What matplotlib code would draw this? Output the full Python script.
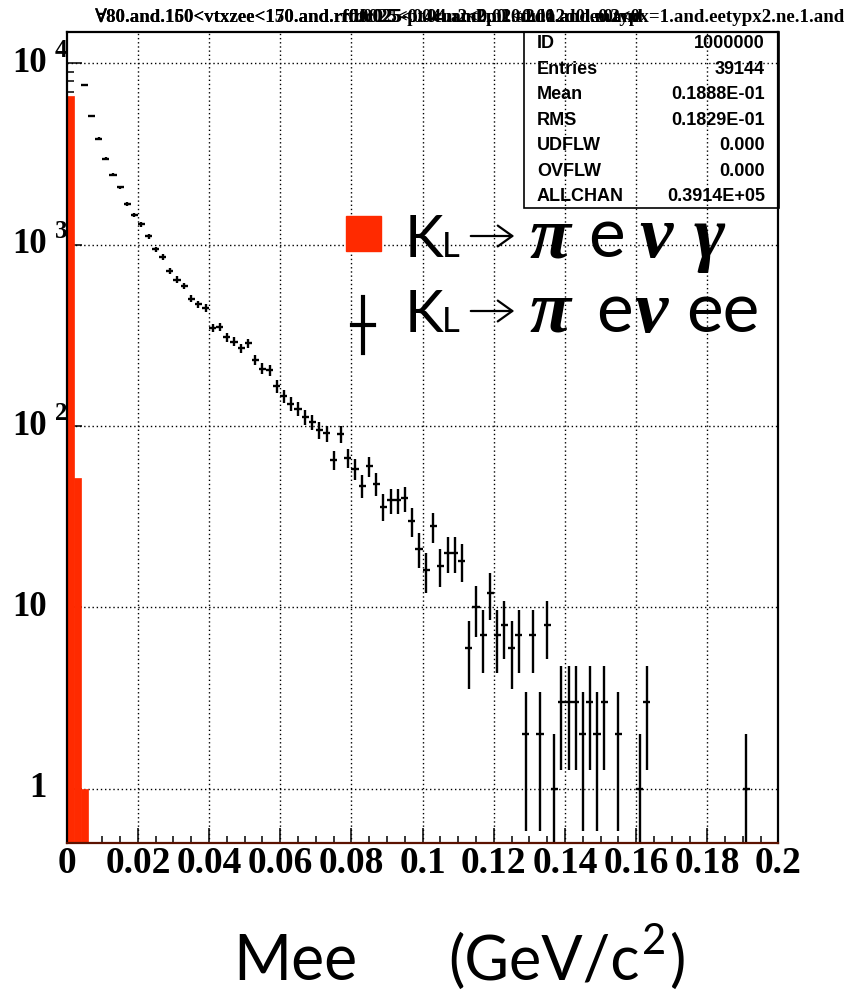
import numpy as np
import matplotlib
matplotlib.use("Agg")
import matplotlib.pyplot as plt
from matplotlib.transforms import Affine2D, blended_transform_factory, ScaledTranslation
from matplotlib.patches import Rectangle, FancyArrowPatch
from matplotlib.lines import Line2D

# ---------------- data ----------------
# K_L -> pi e nu gamma (red histogram), bin edges width 0.002
red_left = [0.000, 0.002, 0.004]
red_counts = [6600, 52, 1]
bin_width = 0.002

# K_L -> pi e nu e e (black points with errors), bin centres
ee_x = [0.005, 0.007, 0.009, 0.011, 0.013, 0.015, 0.017, 0.019, 0.021, 0.023,
        0.025, 0.027, 0.029, 0.031, 0.033, 0.035, 0.037, 0.039, 0.041, 0.043,
        0.045, 0.047, 0.049, 0.051, 0.053, 0.055, 0.057, 0.059, 0.061, 0.063,
        0.065, 0.067, 0.069, 0.071, 0.073, 0.075, 0.077, 0.079, 0.081, 0.083,
        0.085, 0.087, 0.089, 0.091, 0.093, 0.095, 0.097, 0.099, 0.101, 0.103,
        0.105, 0.107, 0.109, 0.111, 0.113, 0.115, 0.117, 0.119, 0.121, 0.123,
        0.125, 0.127, 0.129, 0.131, 0.133, 0.135, 0.137, 0.139, 0.141, 0.143,
        0.145, 0.147, 0.149, 0.151, 0.155, 0.161, 0.163, 0.191]
ee_counts = [7590, 5150, 3850, 2990, 2440, 2075, 1670, 1452, 1295, 1111,
             942, 858, 716, 643, 593, 504, 470, 448, 347, 353,
             309, 292, 268, 286, 232, 207, 204, 166, 146, 133,
             125, 112, 105, 95, 91, 65, 90, 67, 58, 47,
             60, 48, 36, 39, 39, 40, 30, 21, 16, 28,
             17, 20, 20, 18, 6, 10, 7, 12, 7, 8,
             6, 7, 2, 7, 2, 8, 1, 3, 3, 3,
             2, 3, 2, 3, 2, 1, 3, 1]

xtick_values = [0, 0.02, 0.04, 0.06, 0.08, 0.1, 0.12, 0.14, 0.16, 0.18, 0.2]
xtick_labels = ['0', '0.02', '0.04', '0.06', '0.08', '0.1', '0.12', '0.14', '0.16', '0.18', '0.2']
ytick_values = [1, 10, 100, 1000, 10000]
ytick_base = ['1', '10', '10', '10', '10']
ytick_exp = ['', '', '2', '3', '4']

stats_names = ['ID', 'Entries', 'Mean', 'RMS', 'UDFLW', 'OVFLW', 'ALLCHAN']
stats_values = ['1000000', '39144', '0.1888E-01', '0.1829E-01', '0.000', '0.000', '0.3914E+05']

title_head = "\u220080.and.160<vtxzee<150.and."
title_left = ["\u220080.and.160<vtxzee<150.and.rfd0025<0.04uam2p0.0du.a2d0.e0.and.eetypx2.ne",
              "\u220080.and.150<vtxzee<170.and.rf0.0025-pt4cm2<0.01.a2d0.and.m2<0.01.and.ee"]
title_right = "rfdc025<0.04.and.m2<0.01.and.e0typx=1.and.eetypx2.ne.1.and"

RED = '#ff2a00'
W, H = 850, 993

fig = plt.figure(figsize=(W / 100, H / 100), dpi=100)
fig.patch.set_facecolor('white')
pix = Affine2D().scale(1 / W, -1 / H).translate(0, 1) + fig.transFigure
r = fig.canvas.get_renderer()

ax_l, ax_r, ax_t, ax_b = 66.7, 778.5, 31.5, 843.3
ax = fig.add_axes([ax_l / W, 1 - ax_b / H, (ax_r - ax_l) / W, (ax_b - ax_t) / H])
ax.set_yscale('log')
ax.set_xlim(0, 0.2)
ax.set_ylim(0.5, 1.5e4)

# red histogram
ax.bar(red_left, red_counts, width=bin_width, align='edge', color=RED,
       edgecolor=RED, linewidth=0.5, zorder=2)

# black points with Poisson errors
y = np.array(ee_counts, dtype=float)
err = np.sqrt(y)
low = np.minimum(err, y - 1e-3)
ax.errorbar(ee_x, y, xerr=bin_width / 2, yerr=[low, err], fmt='none',
            ecolor='black', elinewidth=1.7, capsize=0, zorder=3)

# grid
for xv in xtick_values[1:-1]:
    ax.axvline(xv, color='black', lw=1.0, ls=(0, (1, 2)), zorder=1)
for yv in ytick_values:
    ax.axhline(yv, color='black', lw=1.0, ls=(0, (1, 2)), zorder=1)

# ticks
ax.set_xticks(xtick_values)
ax.set_xticklabels(xtick_labels, family='Liberation Serif', weight='bold', fontsize=27)
ax.set_xticks(np.arange(0, 0.2001, 0.005), minor=True)
ax.set_yticks(ytick_values)
ax.set_yticklabels([''] * len(ytick_values))
ax.tick_params(which='both', direction='in', top=False, right=False, width=1.1)
ax.tick_params(which='major', length=11)
ax.tick_params(which='minor', length=5)
ax.tick_params(axis='x', which='major', pad=2)
for s in ax.spines.values():
    s.set_linewidth(1.6)
    s.set_zorder(5)
ax.spines['bottom'].set_color('#5c1200')

# y tick labels drawn as base + exponent
ytr = blended_transform_factory(fig.transFigure, ax.transData)
for v, b, e in zip(ytick_values, ytick_base, ytick_exp):
    fig.text(46.5 / W, v, b, transform=ytr, ha='right', va='center',
             family='Liberation Serif', weight='bold', fontsize=25)
    if e:
        fig.text(54.5 / W, v, e,
                 transform=ytr + ScaledTranslation(0, 0.13, fig.dpi_scale_trans),
                 ha='left', va='center', family='Liberation Serif', weight='bold', fontsize=18)

# title (overlapping strings), size fitted so the clean head spans 95..335 px
tfam = ['Liberation Serif', 'DejaVu Serif']
probe = fig.text(95, 22, title_head, transform=pix, family=tfam, weight='bold', fontsize=15)
tfs = 15 * 240.0 / probe.get_window_extent(renderer=r).width
probe.remove()
for t in title_left:
    while True:
        tl = fig.text(95, 22, t, transform=pix, ha='left', va='baseline', family=tfam,
                      weight='bold', fontsize=tfs)
        if tl.get_window_extent(renderer=r).x1 <= 645 or len(t) < 5:
            break
        tl.remove()
        t = t[:-1]
rt = title_right
while True:
    tr_ = fig.text(845, 22, rt, transform=pix, ha='right', va='baseline', family=tfam,
                   weight='bold', fontsize=tfs)
    if tr_.get_window_extent(renderer=r).x0 >= 338 or len(rt) < 5:
        break
    tr_.remove()
    rt = rt[1:]

# stats box
fig.patches.append(Rectangle((524 / W, 1 - 208 / H), (778.5 - 524) / W, (208 - 31.5) / H,
                             transform=fig.transFigure, fill=False, edgecolor='black', lw=1.2))
for i, (n, v) in enumerate(zip(stats_names, stats_values)):
    yy = 44 + i * 25.4
    fig.text(537, yy, n, transform=pix, ha='left', va='center',
             family='Liberation Sans', weight='bold', fontsize=13)
    fig.text(765, yy, v, transform=pix, ha='right', va='center',
             family='Liberation Sans', weight='bold', fontsize=13)

# legend
fig.patches.append(Rectangle((346 / W, 1 - 251 / H), 35 / W, 35 / H,
                             transform=fig.transFigure, color=RED))
fig.lines.append(Line2D([363 / W, 363 / W], [1 - 297 / H, 1 - 353 / H],
                        transform=fig.transFigure, color='black', lw=3))
fig.lines.append(Line2D([352 / W, 374 / W], [1 - 325 / H, 1 - 325 / H],
                        transform=fig.transFigure, color='black', lw=3))

sans = 'Lato'
greek = dict(family='Liberation Serif', style='italic', weight='bold', fontsize=54)


def legend_line(base, greek_parts, e_parts):
    fig.text(405, base, 'K', transform=pix, ha='left', va='baseline', family=sans, fontsize=42)
    fig.text(442, base, 'L', transform=pix, ha='left', va='baseline', family=sans, fontsize=25)
    arr = FancyArrowPatch((468 / W, 1 - (base - 21) / H), (517 / W, 1 - (base - 21) / H),
                          transform=fig.transFigure,
                          arrowstyle='->,head_length=7,head_width=5', lw=1.6, color='black',
                          mutation_scale=1.5)
    fig.patches.append(arr)
    for xg, g in greek_parts:
        fig.text(xg, base, g, transform=pix, ha='left', va='baseline', **greek)
    for xe, e in e_parts:
        fig.text(xe, base, e, transform=pix, ha='left', va='baseline', family=sans, fontsize=50)


legend_line(257, [(529, '\u03c0'), (639, '\u03bd'), (694, '\u03b3')], [(588, 'e')])
legend_line(332, [(529, '\u03c0'), (634, '\u03bd')], [(596, 'e'), (686, 'ee')])

# x axis title: chain pieces using measured extents
fig.text(233, 980, 'Mee', transform=pix, ha='left', va='baseline', family=sans, fontsize=45)
t1 = fig.text(448, 980, '(GeV/c', transform=pix, ha='left', va='baseline', family=sans, fontsize=44)
bb = t1.get_window_extent(renderer=r)
t2 = fig.text(bb.x1 + 3, 954, '2', transform=pix, ha='left', va='baseline', family=sans, fontsize=30)
bb2 = t2.get_window_extent(renderer=r)
fig.text(bb2.x1 + 2, 980, ')', transform=pix, ha='left', va='baseline', family=sans, fontsize=44)

fig.savefig('out.png', dpi=100)
